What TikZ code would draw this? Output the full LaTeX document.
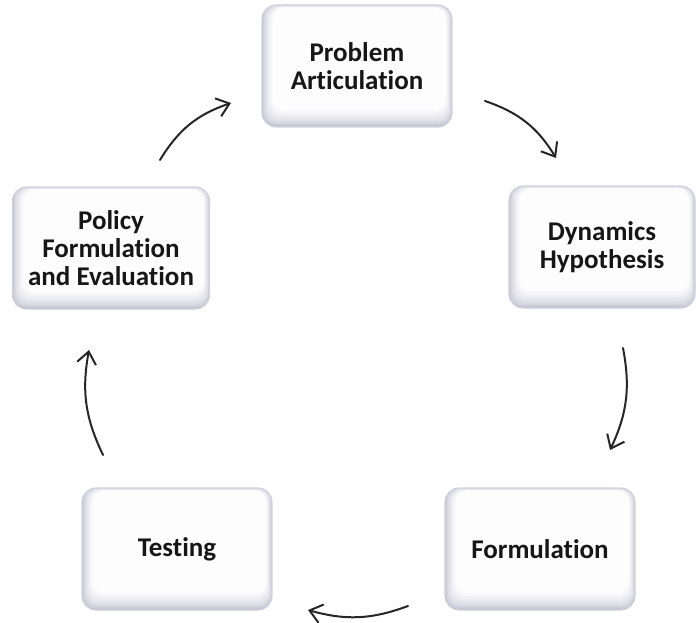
\documentclass[tikz,border=0pt]{standalone}
\usepackage{fontspec}
\setmainfont{Carlito}[Ligatures={NoCommon,NoRare,NoContextual}]
\usetikzlibrary{arrows.meta}

\definecolor{bevel}{RGB}{188,188,204}
\definecolor{face}{RGB}{253,253,254}
\definecolor{rim}{RGB}{210,212,220}
\definecolor{ink}{RGB}{22,22,22}
\definecolor{arrowink}{RGB}{38,38,38}

\tikzset{
  stage/.style={
    rounded corners=14pt, minimum width=190pt, minimum height=122pt,
    inner sep=0pt, draw=rim, line width=1.1pt, fill=face,
    align=center, text=ink,
    font=\fontsize{27}{28}\selectfont\bfseries,
    path picture={
      \foreach \i in {0,...,12}{
        \pgfmathsetmacro{\t}{100*(\i/12)^0.55}
        \fill[face!\t!bevel, rounded corners=12pt]
          ([shift={(0.9*\i pt,1.4*\i pt)}]path picture bounding box.south west)
          rectangle
          ([shift={(-0.5*\i pt,-0.22*\i pt)}]path picture bounding box.north east);
      }
    }
  },
  cyclearrow/.style={
    -{Straight Barb[length=12pt,width=19pt,line width=2pt]},
    line width=2pt, draw=arrowink, line cap=round
  }
}

\begin{document}
\begin{tikzpicture}[x={(1pt,0)}, y={(0,-1pt)}]
  \path[use as bounding box] (0,0) rectangle (696,623);

  % the five stages of the modelling cycle
  \node[stage] (problem) at (357,66) {Problem\\Articulation};
  \node[stage, minimum width=186pt] (dynamics) at (602,247) {Dynamics\\Hypothesis};
  \node[stage] (formulation) at (540,549) {Formulation};
  \node[stage] (testing) at (177,549) {Testing};
  \node[stage, minimum width=197pt] (policy) at (111,248) {Policy\\Formulation\\and Evaluation};

  % arrow end points between the stages
  \coordinate (a1s) at (160,160);  \coordinate (a1e) at (231,103);
  \coordinate (a2s) at (485,101);  \coordinate (a2e) at (556,158);
  \coordinate (a3s) at (623,348);  \coordinate (a3e) at (610,450);
  \coordinate (a4s) at (408,606);  \coordinate (a4e) at (308,610);
  \coordinate (a5s) at (103,455);  \coordinate (a5e) at (89,350);

  \draw[cyclearrow] (a1s) to[bend left=20] (a1e);
  \draw[cyclearrow] (a2s) to[bend left=20] (a2e);
  \draw[cyclearrow] (a3s) to[bend left=18] (a3e);
  \draw[cyclearrow] (a4s) to[bend left=18] (a4e);
  \draw[cyclearrow] (a5s) to[bend left=18] (a5e);
\end{tikzpicture}
\end{document}
